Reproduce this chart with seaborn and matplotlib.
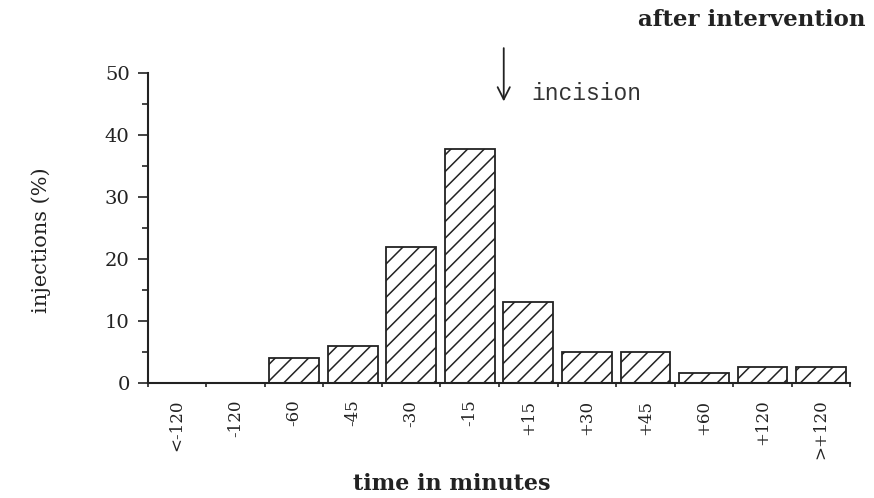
import matplotlib
matplotlib.use("Agg")
import matplotlib.pyplot as plt
import matplotlib.ticker as mticker
import pandas as pd
import seaborn as sns

# values
categories = ["<-120", "-120", "-60", "-45", "-30", "-15",
              "+15", "+30", "+45", "+60", "+120", ">+120"]
injections = [0.0, 0.0, 4.1, 6.0, 22.0, 37.7, 13.0, 5.0, 5.0, 1.6, 2.6, 2.6]

df = pd.DataFrame({"time": categories, "injections": injections})

sns.set_style("ticks")
plt.rcParams["font.family"] = ["DejaVu Serif"]
plt.rcParams["hatch.linewidth"] = 1.1

fig = plt.figure(figsize=(8.74, 4.98), dpi=100)
ax = fig.add_axes([0.169, 0.231, 0.804, 0.622])

sns.barplot(data=df, x="time", y="injections", order=categories,
            color="white", edgecolor="#222222", linewidth=1.3,
            width=0.85, ax=ax)
for p in ax.patches:
    p.set_hatch("//")

ax.set_xlim(-0.5, len(categories) - 0.5)
ax.set_ylim(0, 50)

# y ticks: labelled every 10, minor every 5
ax.yaxis.set_major_locator(mticker.MultipleLocator(10))
ax.yaxis.set_minor_locator(mticker.MultipleLocator(5))
ax.tick_params(axis="y", which="major", length=7, width=1.2, pad=6,
               labelsize=14, colors="#222222")
ax.tick_params(axis="y", which="minor", length=4, width=1.2, colors="#222222")

# x ticks: small marks at the bar boundaries, labels rotated
ax.set_xticks(range(len(categories)))
ax.set_xticklabels(categories, rotation=90)
ax.set_xticks([i + 0.5 for i in range(-1, len(categories))], minor=True)
ax.tick_params(axis="x", which="major", length=0, pad=12, labelsize=12, colors="#222222")
ax.tick_params(axis="x", which="minor", length=3, width=1.2, colors="#222222")

sns.despine(ax=ax)
for s in ("left", "bottom"):
    ax.spines[s].set_linewidth(1.5)
    ax.spines[s].set_color("#222222")

ax.set_xlabel("")
ax.set_ylabel("injections (%)", fontsize=15, color="#222222")
ax.yaxis.set_label_coords(-0.137, 0.46)
fig.text(0.517, 0.028, "time in minutes", fontsize=16, fontweight="bold",
         ha="center", va="center", color="#222222")

# incision marker
ax.annotate("", xy=(5.58, 45.0), xytext=(5.58, 54.5),
            arrowprops=dict(arrowstyle="->", lw=1.3, color="#222222",
                            mutation_scale=22),
            annotation_clip=False)
ax.text(6.05, 46.8, "incision", fontsize=16.5, family="Liberation Mono",
        color="#333333", va="center", ha="left")

fig.text(0.99, 0.96, "after intervention", fontsize=16.5, fontweight="bold",
         ha="right", va="center", color="#222222")

fig.savefig("out.png", dpi=100)
